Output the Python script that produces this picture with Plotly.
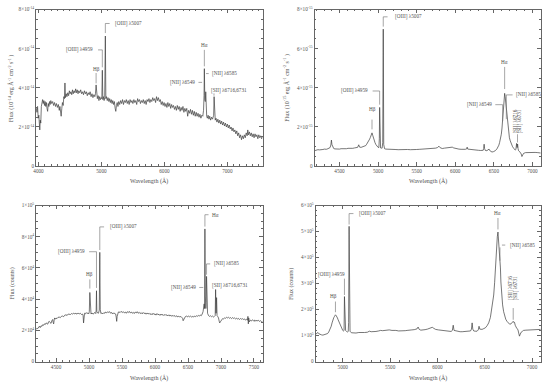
import plotly.graph_objects as go

# ---------------- data ----------------
# Panel A (top-left): flux in 1e-14 erg/A/cm2/s
wave_a = [3962, 3975, 3985, 3995, 4005, 4012, 4020, 4028, 4036, 4045, 4055, 4065, 4075, 4085, 4095, 4105, 4115, 4125, 4135, 4145,
          4155, 4165, 4175, 4185, 4195, 4210, 4225, 4240, 4255, 4270, 4285, 4300, 4315, 4330, 4340, 4350, 4360, 4370, 4380, 4392,
          4402, 4412, 4420, 4428, 4440, 4452, 4465, 4478, 4490, 4502, 4515, 4528, 4540, 4552, 4565, 4578, 4590, 4602, 4615, 4628,
          4640, 4655, 4670, 4685, 4700, 4715, 4730, 4745, 4760, 4775, 4790, 4805, 4820, 4835, 4850, 4865, 4880, 4895, 4905, 4915,
          4925, 4935, 4948, 4960, 4972, 4985, 4998, 5006, 5014, 5022, 5032, 5042, 5052, 5062, 5070, 5080, 5092, 5105, 5118, 5130,
          5142, 5155, 5168, 5180, 5192, 5205, 5218, 5228, 5238, 5250, 5262, 5275, 5290, 5305, 5320, 5335, 5350, 5365, 5380, 5395,
          5410, 5425, 5440, 5455, 5470, 5485, 5500, 5515, 5530, 5545, 5560, 5575, 5590, 5605, 5620, 5635, 5650, 5665, 5680, 5695,
          5710, 5725, 5740, 5755, 5770, 5785, 5800, 5815, 5830, 5845, 5860, 5875, 5890, 5905, 5920, 5935, 5950, 5965, 5980, 5995,
          6010, 6025, 6040, 6055, 6070, 6085, 6100, 6115, 6130, 6145, 6160, 6175, 6190, 6205, 6220, 6235, 6250, 6265, 6280, 6295,
          6310, 6325, 6340, 6355, 6370, 6385, 6400, 6415, 6430, 6445, 6460, 6475, 6490, 6505, 6520, 6535, 6550, 6565, 6580, 6595,
          6610, 6622, 6630, 6635, 6642, 6650, 6657, 6664, 6672, 6682, 6695, 6708, 6720, 6735, 6750, 6765, 6775, 6783, 6790, 6797,
          6808, 6820, 6835, 6850, 6865, 6880, 6895, 6910, 6925, 6940, 6955, 6970, 6985, 7000, 7015, 7030, 7045, 7060, 7075, 7090,
          7105, 7120, 7135, 7150, 7165, 7180, 7195, 7210, 7225, 7240, 7255, 7270, 7285, 7300, 7315, 7325, 7335, 7350, 7365, 7380,
          7395, 7410, 7425, 7440, 7455, 7470, 7485, 7500, 7515, 7530, 7545, 7560]
flux_a = [3.00, 2.75, 3.05, 2.45, 2.60, 2.05, 1.85, 2.35, 2.20, 3.05, 3.25, 3.40, 3.20, 3.35, 3.10, 3.30, 3.05, 3.25, 2.95, 2.80,
          3.20, 3.05, 3.30, 3.15, 3.35, 3.20, 3.30, 3.10, 3.25, 3.05, 3.20, 3.00, 3.15, 2.85, 3.05, 2.70, 2.55, 2.95, 3.25, 3.10,
          3.55, 3.45, 4.25, 3.50, 3.70, 3.55, 3.75, 3.60, 3.85, 3.70, 3.80, 3.65, 3.90, 3.70, 3.85, 3.75, 3.95, 3.75, 3.90, 3.70,
          3.85, 3.75, 3.90, 3.70, 3.80, 3.65, 3.85, 3.70, 3.80, 3.60, 3.75, 3.65, 3.80, 3.55, 3.70, 3.50, 3.65, 3.55, 3.70, 4.15,
          3.60, 3.45, 3.60, 3.35, 3.55, 3.40, 3.50, 3.45, 4.90, 3.40, 3.55, 3.35, 3.50, 6.65, 3.45, 3.55, 3.35, 3.50, 3.30, 3.45,
          3.25, 3.40, 3.20, 3.35, 3.15, 3.30, 2.95, 2.80, 3.10, 3.25, 3.05, 3.30, 3.15, 3.35, 3.20, 3.40, 3.15, 3.35, 3.25, 3.40,
          3.20, 3.35, 3.15, 3.40, 3.25, 3.35, 3.20, 3.40, 3.25, 3.35, 3.15, 3.45, 3.30, 3.40, 3.20, 3.35, 3.25, 3.40, 3.20, 3.35,
          3.15, 3.40, 3.30, 3.45, 3.25, 3.40, 3.30, 3.50, 3.35, 3.45, 3.25, 3.55, 3.35, 3.50, 3.30, 3.40, 3.15, 3.30, 3.10, 3.25,
          3.05, 3.20, 3.00, 3.25, 3.05, 3.20, 2.95, 3.15, 3.00, 3.10, 2.90, 3.05, 2.85, 3.10, 2.90, 3.05, 2.80, 3.00, 2.85, 3.05,
          2.75, 2.95, 2.80, 2.95, 2.55, 2.85, 2.70, 2.90, 2.65, 2.85, 2.60, 2.80, 2.55, 2.75, 2.55, 2.70, 2.50, 2.65, 2.45, 2.60,
          2.55, 2.85, 3.60, 4.98, 3.40, 3.30, 3.80, 2.90, 2.55, 2.45, 2.60, 2.40, 2.55, 2.35, 2.50, 2.40, 2.55, 2.60, 3.55, 2.50,
          2.35, 2.45, 2.25, 2.40, 2.20, 2.35, 2.15, 2.30, 2.10, 2.25, 2.05, 2.20, 2.00, 2.15, 1.95, 2.10, 1.90, 2.00, 1.80, 1.95,
          1.75, 1.85, 1.65, 1.80, 1.55, 1.70, 1.45, 1.60, 1.35, 1.55, 1.40, 1.60, 1.45, 1.70, 1.55, 1.85, 1.60, 1.75, 1.55, 1.70,
          1.50, 1.65, 1.45, 1.65, 1.50, 1.60, 1.40, 1.60, 1.45, 1.55, 1.40, 1.50]

# Panel B (top-right): flux in 1e-15 erg/A/cm2/s
wave_b = [4177, 4199, 4220, 4242, 4263, 4285, 4306, 4328, 4350, 4365, 4378, 4388, 4395, 4402, 4412, 4425, 4440, 4457, 4480, 4500,
          4520, 4543, 4565, 4590, 4610, 4629, 4650, 4672, 4695, 4715, 4735, 4749, 4760, 4780, 4800, 4822, 4840, 4852, 4866, 4878,
          4890, 4899, 4910, 4921, 4930, 4938, 4950, 4960, 4972, 4981, 4992, 5000, 5010, 5016, 5020, 5024, 5032, 5042, 5052, 5060,
          5067, 5073, 5084, 5100, 5123, 5150, 5187, 5220, 5260, 5300, 5340, 5380, 5420, 5460, 5500, 5540, 5574, 5610, 5650, 5690,
          5720, 5746, 5770, 5789, 5805, 5832, 5860, 5890, 5920, 5945, 5961, 5980, 6000, 6025, 6047, 6075, 6100, 6130, 6148, 6154,
          6162, 6190, 6220, 6262, 6300, 6330, 6348, 6362, 6368, 6374, 6380, 6390, 6410, 6430, 6438, 6446, 6460, 6476, 6495, 6519,
          6540, 6554, 6565, 6575, 6587, 6597, 6606, 6614, 6621, 6627, 6634, 6640, 6647, 6653, 6658, 6662, 6668, 6674, 6683, 6692,
          6702, 6713, 6728, 6743, 6760, 6777, 6786, 6795, 6802, 6808, 6814, 6820, 6835, 6846, 6855, 6864, 6874, 6885, 6910, 6949,
          6990, 7035, 7070, 7108]
flux_b = [0.79, 0.82, 0.84, 0.83, 0.86, 0.85, 0.87, 0.86, 0.89, 0.92, 0.95, 1.08, 1.33, 1.10, 0.95, 0.90, 0.88, 0.87, 0.88, 0.87,
          0.89, 0.88, 0.90, 0.89, 0.91, 0.90, 0.92, 0.91, 0.93, 0.94, 0.96, 1.09, 0.97, 0.96, 0.98, 1.00, 1.05, 1.12, 1.20, 1.29,
          1.38, 1.46, 1.58, 1.70, 1.58, 1.45, 1.30, 1.20, 1.10, 1.03, 0.98, 0.96, 0.95, 1.40, 3.00, 1.30, 0.93, 0.92, 0.92, 1.20,
          7.00, 1.10, 0.89, 0.87, 0.86, 0.85, 0.84, 0.85, 0.84, 0.85, 0.84, 0.85, 0.84, 0.86, 0.85, 0.86, 0.87, 0.88, 0.87, 0.89,
          0.90, 0.92, 0.95, 1.02, 0.94, 0.90, 0.92, 0.94, 0.96, 0.98, 0.97, 0.93, 0.90, 0.88, 0.87, 0.86, 0.85, 0.86, 0.88, 0.97,
          0.87, 0.85, 0.84, 0.82, 0.81, 0.80, 0.79, 0.81, 0.90, 1.12, 0.90, 0.80, 0.79, 0.82, 0.87, 0.80, 0.76, 0.72, 0.74, 0.79,
          0.88, 0.96, 1.07, 1.21, 1.40, 1.63, 1.95, 2.30, 2.65, 2.97, 3.40, 3.72, 3.55, 3.31, 3.20, 3.10, 2.70, 2.30, 1.95, 1.71,
          1.45, 1.29, 1.10, 0.99, 0.90, 0.82, 0.85, 1.16, 0.95, 1.13, 0.90, 0.79, 0.74, 0.70, 0.62, 0.49, 0.58, 0.65, 0.69, 0.70,
          0.71, 0.70, 0.69, 0.67]

# Panel C (bottom-left): flux in units of 1e4 counts
wave_c = [4198, 4210, 4223, 4235, 4248, 4260, 4273, 4286, 4299, 4312, 4325, 4337, 4349, 4362, 4374, 4386, 4399, 4411, 4424, 4436,
          4449, 4456, 4464, 4472, 4479, 4490, 4500, 4515, 4530, 4550, 4565, 4580, 4600, 4615, 4630, 4650, 4668, 4685, 4700, 4718,
          4735, 4751, 4768, 4785, 4801, 4818, 4835, 4851, 4868, 4885, 4901, 4910, 4917, 4924, 4932, 4945, 4958, 4970, 4982, 4995,
          5004, 5012, 5020, 5030, 5045, 5060, 5075, 5090, 5102, 5108, 5113, 5118, 5130, 5143, 5155, 5163, 5170, 5180, 5195, 5210,
          5225, 5240, 5253, 5268, 5283, 5298, 5313, 5328, 5343, 5358, 5373, 5388, 5404, 5412, 5419, 5426, 5434, 5445, 5454, 5470,
          5485, 5504, 5520, 5535, 5550, 5565, 5580, 5595, 5610, 5625, 5640, 5655, 5670, 5685, 5700, 5715, 5730, 5745, 5760, 5775,
          5790, 5805, 5820, 5835, 5850, 5865, 5880, 5895, 5910, 5925, 5940, 5955, 5970, 5985, 6000, 6015, 6030, 6045, 6060, 6075,
          6090, 6105, 6120, 6135, 6150, 6165, 6180, 6195, 6210, 6225, 6240, 6255, 6270, 6285, 6300, 6315, 6330, 6345, 6360, 6375,
          6390, 6405, 6418, 6426, 6434, 6445, 6459, 6475, 6490, 6505, 6520, 6535, 6550, 6565, 6580, 6595, 6610, 6625, 6640, 6655,
          6670, 6685, 6700, 6715, 6728, 6738, 6745, 6750, 6756, 6763, 6770, 6776, 6781, 6787, 6796, 6811, 6825, 6840, 6855, 6870,
          6885, 6900, 6912, 6918, 6925, 6933, 6940, 6952, 6962, 6972, 6980, 6990, 7000, 7012, 7025, 7040, 7055, 7070, 7085, 7100,
          7115, 7130, 7145, 7160, 7175, 7190, 7205, 7220, 7235, 7250, 7265, 7280, 7295, 7310, 7325, 7340, 7355, 7370, 7385, 7400,
          7408, 7414, 7420, 7430, 7445, 7460, 7475, 7490, 7505, 7514, 7530, 7545, 7565, 7580, 7600, 7615, 7630]
flux_c = [2.06, 2.15, 2.12, 2.22, 2.27, 2.18, 2.30, 2.26, 2.37, 2.33, 2.42, 2.38, 2.48, 2.44, 2.40, 2.55, 2.58, 2.50, 2.45, 2.62,
          2.70, 2.52, 2.42, 2.68, 2.80, 2.72, 2.79, 2.76, 2.84, 2.85, 2.82, 2.90, 2.92, 2.88, 2.97, 3.00, 2.96, 3.05, 3.05, 3.02,
          3.08, 3.05, 3.10, 3.06, 3.10, 3.04, 3.12, 3.05, 3.10, 3.02, 3.05, 2.95, 2.48, 2.98, 3.10, 3.06, 3.14, 3.08, 3.12, 3.06,
          3.20, 4.43, 3.15, 3.05, 3.12, 3.04, 3.10, 3.15, 3.08, 3.30, 4.54, 3.20, 3.12, 3.10, 3.30, 7.00, 3.35, 3.08, 3.12, 3.06,
          3.14, 3.10, 3.18, 3.12, 3.20, 3.15, 3.20, 3.10, 3.15, 3.05, 3.12, 3.08, 3.05, 2.85, 2.58, 2.90, 3.10, 3.18, 3.20, 3.14,
          3.22, 3.15, 3.20, 3.12, 3.18, 3.10, 3.20, 3.14, 3.22, 3.12, 3.18, 3.10, 3.16, 3.08, 3.18, 3.12, 3.20, 3.10, 3.16, 3.08,
          3.14, 3.06, 3.15, 3.08, 3.12, 3.04, 3.12, 3.05, 3.10, 3.02, 3.08, 3.00, 3.10, 3.02, 3.06, 2.98, 3.08, 3.00, 3.04, 2.96,
          3.05, 2.98, 3.02, 2.95, 3.03, 2.96, 3.00, 2.93, 3.00, 2.92, 2.98, 2.90, 2.97, 2.90, 2.95, 2.88, 2.94, 2.86, 2.92, 2.85,
          2.90, 2.84, 2.78, 2.62, 2.70, 2.85, 2.88, 2.92, 2.86, 2.93, 2.87, 2.92, 2.86, 2.90, 2.85, 2.92, 2.88, 2.94, 2.90, 2.96,
          2.92, 2.98, 2.94, 3.05, 3.20, 3.50, 3.70, 3.40, 8.50, 4.20, 3.40, 3.80, 5.46, 3.60, 3.10, 2.95, 2.90, 2.94, 2.88, 2.92,
          2.86, 2.90, 2.95, 4.62, 3.10, 4.10, 2.95, 2.88, 2.80, 2.60, 2.48, 2.55, 2.62, 2.70, 2.76, 2.74, 2.80, 2.78, 2.84, 2.80,
          2.84, 2.78, 2.82, 2.76, 2.82, 2.77, 2.80, 2.74, 2.79, 2.72, 2.77, 2.70, 2.76, 2.72, 2.75, 2.70, 2.74, 2.66, 2.72, 2.65,
          2.90, 2.42, 2.80, 2.55, 2.66, 2.60, 2.68, 2.62, 2.66, 2.58, 2.66, 2.60, 2.65, 2.58, 2.62, 2.56, 2.58]

# Panel D (bottom-right): flux in units of 1e5 counts
wave_d = [4713, 4725, 4738, 4748, 4760, 4775, 4790, 4808, 4825, 4840, 4852, 4860, 4870, 4878, 4887, 4895, 4905, 4913, 4923, 4930,
          4937, 4944, 4951, 4958, 4965, 4974, 4983, 4992, 5000, 5008, 5014, 5018, 5022, 5030, 5040, 5049, 5058, 5062, 5067, 5072,
          5077, 5091, 5110, 5140, 5170, 5200, 5230, 5260, 5281, 5300, 5330, 5351, 5380, 5400, 5421, 5450, 5470, 5491, 5520, 5545,
          5561, 5590, 5610, 5631, 5660, 5680, 5701, 5730, 5755, 5771, 5785, 5796, 5808, 5825, 5841, 5870, 5895, 5911, 5930, 5946,
          5962, 5981, 6010, 6030, 6052, 6080, 6100, 6122, 6145, 6158, 6167, 6176, 6192, 6220, 6240, 6262, 6290, 6310, 6332, 6350,
          6360, 6367, 6374, 6384, 6400, 6419, 6432, 6440, 6448, 6460, 6472, 6490, 6507, 6525, 6542, 6560, 6577, 6588, 6595, 6605,
          6612, 6620, 6626, 6633, 6640, 6645, 6650, 6656, 6661, 6666, 6671, 6680, 6689, 6700, 6710, 6722, 6735, 6750, 6763, 6777,
          6787, 6795, 6801, 6808, 6815, 6822, 6829, 6840, 6850, 6860, 6867, 6876, 6885, 6900, 6910, 6935, 6962, 6990, 7010, 7033,
          7060, 7092]
flux_d = [1.05, 1.07, 1.12, 1.07, 1.04, 1.03, 1.02, 1.04, 1.05, 1.08, 1.14, 1.20, 1.28, 1.36, 1.49, 1.61, 1.69, 1.74, 1.80, 1.77,
          1.74, 1.68, 1.61, 1.54, 1.48, 1.38, 1.30, 1.24, 1.20, 1.18, 1.20, 2.50, 1.30, 1.20, 1.16, 1.14, 1.16, 1.50, 5.20, 1.40,
          1.17, 1.11, 1.10, 1.10, 1.12, 1.11, 1.12, 1.13, 1.17, 1.15, 1.14, 1.16, 1.18, 1.20, 1.19, 1.21, 1.22, 1.22, 1.20, 1.21,
          1.20, 1.18, 1.18, 1.17, 1.19, 1.20, 1.20, 1.22, 1.23, 1.24, 1.26, 1.33, 1.24, 1.21, 1.21, 1.23, 1.25, 1.27, 1.29, 1.32,
          1.28, 1.24, 1.22, 1.21, 1.20, 1.18, 1.17, 1.15, 1.16, 1.20, 1.40, 1.20, 1.18, 1.16, 1.15, 1.15, 1.16, 1.16, 1.17, 1.18,
          1.25, 1.49, 1.25, 1.18, 1.17, 1.17, 1.22, 1.36, 1.25, 1.24, 1.24, 1.27, 1.30, 1.38, 1.49, 1.70, 2.06, 2.30, 2.56, 3.05,
          3.57, 4.10, 4.45, 4.80, 4.98, 4.70, 4.35, 4.20, 4.14, 3.60, 3.06, 2.50, 2.18, 1.92, 1.74, 1.63, 1.55, 1.48, 1.44, 1.45,
          1.49, 1.55, 1.55, 1.50, 1.51, 1.40, 1.32, 1.27, 1.24, 1.05, 0.98, 1.06, 1.13, 1.17, 1.20, 1.21, 1.22, 1.23, 1.23, 1.24,
          1.23, 1.24]

# Tick labels
yt_a = ["0", "2×10<sup>-14</sup>", "4×10<sup>-14</sup>", "6×10<sup>-14</sup>", "8×10<sup>-14</sup>"]
yt_b = ["0", "2×10<sup>-15</sup>", "4×10<sup>-15</sup>", "6×10<sup>-15</sup>", "8×10<sup>-15</sup>"]
yt_c = ["0", "2×10<sup>4</sup>", "4×10<sup>4</sup>", "6×10<sup>4</sup>", "8×10<sup>4</sup>", "1×10<sup>5</sup>"]
yt_d = ["0", "1×10<sup>5</sup>", "2×10<sup>5</sup>", "3×10<sup>5</sup>", "4×10<sup>5</sup>", "5×10<sup>5</sup>", "6×10<sup>5</sup>"]

# ---------------- styling ----------------
W, H = 550, 387
FONT = "Liberation Serif"
LC = "#3c3c3c"
AX = "#666666"
TXT = "#505050"
FS = 5.2


def px_x(p):
    return p / W


def px_y(p):
    return 1 - p / H


dom = {
    1: ([px_x(33.3), px_x(261)], [px_y(165.7), px_y(6.7)]),
    2: ([px_x(313.3), px_x(540.7)], [px_y(165.7), px_y(6.7)]),
    3: ([px_x(33.3), px_x(261)], [px_y(364.3), px_y(205.7)]),
    4: ([px_x(314.3), px_x(540.7)], [px_y(364.3), px_y(205.7)]),
}

fig = go.Figure()
series = [(wave_a, flux_a), (wave_b, flux_b), (wave_c, flux_c), (wave_d, flux_d)]
for i, (wx, fy) in enumerate(series, start=1):
    sfx = "" if i == 1 else str(i)
    fig.add_trace(go.Scatter(x=wx, y=fy, mode="lines", line=dict(color=LC, width=0.7),
                             xaxis="x" + sfx, yaxis="y" + sfx, showlegend=False, hoverinfo="skip"))


def xaxis(i, rng, dtick):
    sfx = "" if i == 1 else str(i)
    return dict(domain=dom[i][0], anchor="y" + sfx, range=rng, dtick=dtick, tick0=0,
                ticks="inside", ticklen=4, tickwidth=0.6, tickcolor=AX,
                minor=dict(ticks="inside", ticklen=2, dtick=100, tickwidth=0.5, tickcolor=AX),
                showline=True, linecolor=AX, linewidth=0.8, mirror="ticks",
                showgrid=False, zeroline=False, ticklabelstandoff=0,
                tickfont=dict(family=FONT, size=FS, color=TXT))


def yaxis(i, rng, step, mdt, texts):
    sfx = "" if i == 1 else str(i)
    vals = [k * step for k in range(len(texts))]
    return dict(domain=dom[i][1], anchor="x" + sfx, range=rng, tickvals=vals, ticktext=texts,
                ticks="inside", ticklen=4, tickwidth=0.6, tickcolor=AX,
                minor=dict(ticks="inside", ticklen=2, dtick=mdt, tickwidth=0.5, tickcolor=AX),
                showline=True, linecolor=AX, linewidth=0.8, mirror="ticks",
                showgrid=False, zeroline=False, ticklabelstandoff=0,
                tickfont=dict(family=FONT, size=FS, color=TXT))


layout = dict(
    width=W, height=H, autosize=False, margin=dict(l=0, r=0, t=0, b=0),
    paper_bgcolor="white", plot_bgcolor="white", showlegend=False,
    xaxis=xaxis(1, [3962, 7560], 1000), yaxis=yaxis(1, [0, 8], 2, 0.5, yt_a),
    xaxis2=xaxis(2, [4177, 7108], 500), yaxis2=yaxis(2, [0, 8], 2, 0.5, yt_b),
    xaxis3=xaxis(3, [4198, 7630], 500), yaxis3=yaxis(3, [0, 10], 2, 0.5, yt_c),
    xaxis4=xaxis(4, [4713, 7092], 500), yaxis4=yaxis(4, [0, 6], 1, 0.2, yt_d),
)

shapes = []
annots = []


def lead(i, pts):
    sfx = "" if i == 1 else str(i)
    d = "M " + " L ".join(f"{x},{y}" for x, y in pts)
    shapes.append(dict(type="path", path=d, xref="x" + sfx, yref="y" + sfx,
                       line=dict(color="#6a6a6a", width=0.6)))


def lab(i, x, y, text, anchor="center", angle=0):
    sfx = "" if i == 1 else str(i)
    annots.append(dict(x=x, y=y, xref="x" + sfx, yref="y" + sfx, text=text, showarrow=False,
                       xanchor=anchor, yanchor="middle", textangle=angle,
                       font=dict(family=FONT, size=FS, color=TXT)))


# Panel A labels
lab(1, 4915, 4.98, "Hβ"); lead(1, [(4915, 4.23), (4915, 4.76)])
lab(1, 4894, 5.94, "[OIII] λ4959", "right"); lead(1, [(4946, 5.94), (5014, 5.94), (5014, 5.05)])
lab(1, 5188, 7.29, "[OIII] λ5007", "left"); lead(1, [(5062, 6.80), (5062, 7.29), (5130, 7.29)])
lab(1, 6635, 6.19, "Hα"); lead(1, [(6635, 5.10), (6635, 5.94)])
lab(1, 6525, 4.28, "[NII] λ6549", "right"); lead(1, [(6541, 4.28), (6599, 4.28)])
lab(1, 6725, 4.73, "[NII] λ6585", "left"); lead(1, [(6662, 4.73), (6704, 4.73)])
lab(1, 6709, 3.86, "[SII] λ6716,6731", "left"); lead(1, [(6788, 3.60), (6788, 3.72)])

# Panel B labels
lab(2, 4921, 2.94, "Hβ"); lead(2, [(4921, 1.88), (4921, 2.38)])
lab(2, 4899, 3.84, "[OIII] λ4959", "right"); lead(2, [(4929, 3.84), (5020, 3.84), (5020, 3.14)])
lab(2, 5187, 7.63, "[OIII] λ5007", "left"); lead(2, [(5067, 7.13), (5067, 7.63), (5123, 7.63)])
lab(2, 6640, 5.32, "Hα"); lead(2, [(6640, 3.94), (6640, 5.07)])
lab(2, 6498, 3.14, "[NII] λ6549", "right"); lead(2, [(6519, 3.14), (6614, 3.14), (6614, 2.30)])
lab(2, 6756, 3.64, "[NII] λ6585", "left"); lead(2, [(6743, 3.64), (6662, 3.64), (6662, 2.40)])
lab(2, 6786, 2.27, "[SII] λ6716", angle=-90); lab(2, 6837, 2.27, "[SII] λ6731", angle=-90)
lead(2, [(6807, 1.21), (6807, 1.63)])

# Panel C labels
lab(3, 5012, 5.63, "Hβ"); lead(3, [(5012, 4.68), (5012, 5.27)])
lab(3, 4962, 7.04, "[OIII] λ4959", "right"); lead(3, [(5002, 7.04), (5113, 7.04), (5113, 4.72)])
lab(3, 5293, 8.63, "[OIII] λ5007", "left"); lead(3, [(5163, 7.15), (5163, 8.63), (5228, 8.63)])
lab(3, 6836, 9.41, "Hα", "left"); lead(3, [(6756, 8.65), (6756, 9.41), (6811, 9.41)])
lab(3, 6650, 4.75, "[NII] λ6549", "right"); lead(3, [(6670, 4.75), (6731, 4.75)])
lab(3, 6861, 6.26, "[NII] λ6585", "left"); lead(3, [(6781, 5.57), (6781, 6.26), (6836, 6.26)])
lab(3, 6836, 4.87, "[SII] λ6716,6731", "left")

# Panel D labels
lab(4, 4902, 2.53, "Hβ"); lead(4, [(4923, 1.90), (4923, 2.31)])
lab(4, 4878, 3.34, "[OIII] λ4959"); lead(4, [(5018, 2.56), (5018, 3.19)])
lab(4, 5155, 5.69, "[OIII] λ5007", "left"); lead(4, [(5067, 5.27), (5067, 5.69), (5113, 5.69)])
lab(4, 6640, 5.71, "Hα"); lead(4, [(6640, 5.08), (6640, 5.52)])
lab(4, 6742, 4.48, "[NII] λ6585", "left"); lead(4, [(6682, 4.48), (6717, 4.48)])
lead(4, [(6661, 3.88), (6661, 4.39)])
lab(4, 6773, 2.81, "[SII] λ6716", angle=-90); lab(4, 6829, 2.81, "[SII] λ6731", angle=-90)
lead(4, [(6801, 1.61), (6801, 2.06)])

# Axis titles (paper coordinates)
for i in (1, 2, 3, 4):
    xd, yd = dom[i]
    ytitle_y = px_y(181) if i in (1, 2) else px_y(380.5)
    annots.append(dict(x=(xd[0] + xd[1]) / 2, y=ytitle_y, xref="paper", yref="paper",
                       text="Wavelength (Å)", showarrow=False, xanchor="center", yanchor="middle",
                       font=dict(family=FONT, size=6, color=TXT)))
ytitles = {
    1: (px_x(8.5), "Flux (10<sup>-14</sup> erg Å<sup>-1</sup> cm<sup>-2</sup> s<sup>-1</sup> )"),
    2: (px_x(285.5), "Flux (10<sup>-15</sup> erg Å<sup>-1</sup> cm<sup>-2</sup> s<sup>-1</sup> )"),
    3: (px_x(10), "Flux (counts)"),
    4: (px_x(290), "Flux (counts)"),
}
for i, (xp, t) in ytitles.items():
    yd = dom[i][1]
    annots.append(dict(x=xp, y=(yd[0] + yd[1]) / 2, xref="paper", yref="paper", text=t,
                       showarrow=False, xanchor="center", yanchor="middle", textangle=-90,
                       font=dict(family=FONT, size=6, color=TXT)))

layout["shapes"] = shapes
layout["annotations"] = annots
fig.update_layout(**layout)
fig.write_html("out.html", config={"displayModeBar": False},
               post_script="document.body.style.margin='0px';document.body.style.padding='0px';"
                           "document.documentElement.style.overflow='hidden';")
